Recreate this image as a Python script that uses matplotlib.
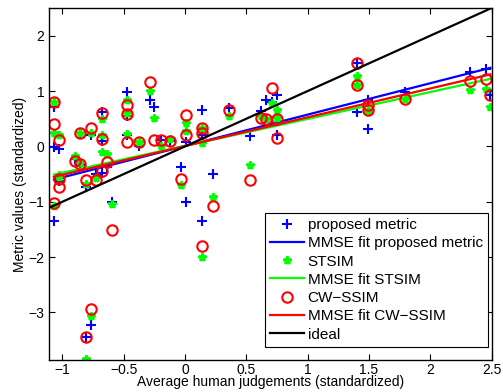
import numpy as np
import matplotlib
matplotlib.use("Agg")
import matplotlib.pyplot as plt

plt.rcParams['font.family'] = ['Liberation Sans', 'DejaVu Sans']

# human judgements (x) and the three metrics (y), all standardized
human = [-1.07, -1.07, -1.07, -1.03, -1.03, -1.03, -0.90, -0.86, -0.86, -0.81,
         -0.81, -0.77, -0.77, -0.73, -0.68, -0.68, -0.68, -0.64, -0.595, -0.47,
         -0.47, -0.47, -0.38, -0.29, -0.25, -0.20, -0.12, -0.03, 0.01, 0.01,
         0.14, 0.14, 0.14, 0.23, 0.36, 0.53, 0.62, 0.66, 0.71, 0.75,
         0.75, 1.40, 1.40, 1.49, 1.49, 1.79, 2.32, 2.45, 2.49]
proposed = [0.71, -0.02, -1.34, -0.04, -0.57, -0.62, -0.22, -0.33, 0.25, -0.74,
            -3.44, 0.21, -3.22, -0.50, 0.62, 0.09, -0.48, -0.37, -1.01, 0.98,
            0.54, 0.21, 0.01, 0.84, 0.71, 0.12, 0.09, -0.37, 0.07, -1.00,
            0.65, 0.20, -1.34, -0.50, 0.70, 0.19, 0.63, 0.84, 0.80, 0.92,
            0.20, 1.51, 0.62, 0.84, 0.31, 0.99, 1.34, 1.40, 0.92]
stsim = [0.81, 0.24, -1.08, 0.21, -0.51, -0.55, -0.18, -0.30, 0.25, -0.68,
         -3.84, 0.24, -3.07, -0.57, 0.50, 0.21, -0.10, -0.13, -1.05, 0.83,
         0.60, 0.22, 0.07, 1.00, 0.52, 0.01, 0.13, -0.69, 0.43, 0.27,
         0.34, 0.06, -1.99, -0.92, 0.55, -0.34, 0.55, 0.50, 0.78, 0.65,
         0.52, 1.27, 1.10, 0.62, 0.66, 0.86, 1.01, 1.04, 0.72]
cwssim = [0.80, 0.41, -1.02, 0.12, -0.59, -0.73, -0.26, -0.32, 0.25, -0.61,
          -3.44, 0.33, -2.93, -0.60, 0.60, 0.13, -0.45, -0.29, -1.52, 0.74,
          0.59, 0.08, 0.07, 1.16, 0.11, 0.12, 0.09, -0.59, 0.56, 0.21,
          0.33, 0.24, -1.80, -1.07, 0.66, -0.61, 0.52, 0.50, 1.06, 0.50,
          0.16, 1.51, 1.10, 0.74, 0.65, 0.86, 1.19, 1.21, 0.92]

# MMSE fit lines (slope, intercept)
fit_proposed = (0.567, 0.007)
fit_stsim = (0.486, 0.010)
fit_cwssim = (0.520, 0.006)

x = np.array(human)
xf = np.array([x.min(), x.max()])

fig = plt.figure(figsize=(5.03, 3.92), dpi=100)
ax = fig.add_axes([0.0974, 0.0816, 0.880, 0.898])

ax.plot(x, proposed, '+', color='b', ms=7, mew=1.5, label='proposed metric')
ax.plot(xf, fit_proposed[0] * xf + fit_proposed[1], '-', color='b', lw=1.6,
        label='MMSE fit proposed metric')
ax.plot(x, stsim, '*', color='#00ff00', ms=6, mew=1.8, label='STSIM')
ax.plot(xf, fit_stsim[0] * xf + fit_stsim[1], '-', color='#00ff00', lw=1.6,
        label='MMSE fit STSIM')
ax.plot(x, cwssim, 'o', color='r', mfc='none', ms=7.5, mew=1.5, label='CW\u2212SSIM')
ax.plot(xf, fit_cwssim[0] * xf + fit_cwssim[1], '-', color='r', lw=1.6,
        label='MMSE fit CW\u2212SSIM')
ax.plot([-1.11, 2.5], [-1.11, 2.5], '-', color='k', lw=1.6, label='ideal')

ax.set_xlim(-1.11, 2.5)
ax.set_ylim(-3.86, 2.5)
ax.set_xticks([-1, -0.5, 0, 0.5, 1, 1.5, 2, 2.5])
ax.set_xticklabels(['\u22121', '\u22120.5', '0', '0.5', '1', '1.5', '2', '2.5'])
ax.set_yticks([-3, -2, -1, 0, 1, 2])
ax.set_yticklabels(['\u22123', '\u22122', '\u22121', '0', '1', '2'])
ax.tick_params(direction='in', top=True, right=True, labelsize=10, length=4, width=0.8)
ax.tick_params(axis='x', pad=2)
for s in ax.spines.values():
    s.set_linewidth(1.0)

ax.set_xlabel('Average human judgements (standardized)', fontsize=10, labelpad=-1)
ax.set_ylabel('Metric values (standardized)', fontsize=10, labelpad=1)

leg = ax.legend(loc='lower right', bbox_to_anchor=(0.992, 0.037), fontsize=11,
                fancybox=False, framealpha=1, edgecolor='k', borderpad=0.35,
                labelspacing=0.28, handlelength=2.2, handletextpad=0.25,
                borderaxespad=0)
leg.get_frame().set_linewidth(0.8)

fig.savefig('out.png', dpi=100)
